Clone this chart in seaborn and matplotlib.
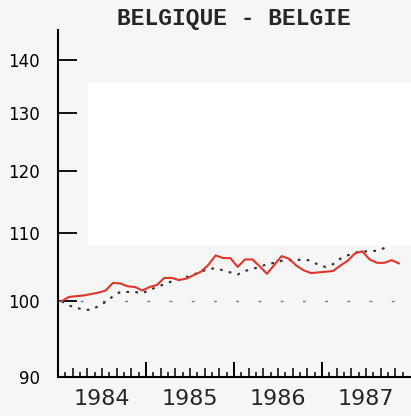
import numpy as np
import pandas as pd
import matplotlib.pyplot as plt
import seaborn as sns
from matplotlib.patches import Rectangle

# monthly index values, Jan 1984 .. Nov 1987
red_series = [100.0, 100.6, 100.7, 100.8, 101.0, 101.2, 101.5, 102.6, 102.5, 102.1,
              102.0, 101.5, 102.0, 102.3, 103.3, 103.3, 103.0, 103.2, 103.7, 104.2,
              105.2, 106.6, 106.2, 106.2, 104.9, 106.0, 106.0, 105.0, 103.9, 105.2,
              106.5, 106.1, 105.1, 104.4, 104.0, 104.1, 104.2, 104.3, 105.1, 105.8,
              106.9, 107.2, 106.0, 105.5, 105.5, 105.9, 105.4]
dotted_series = [100.0, 99.4, 99.1, 98.8, 98.8, 99.3, 99.9, 100.7, 101.3, 101.3,
                 101.3, 101.1, 101.6, 102.0, 102.4, 102.8, 103.0, 103.4, 103.8, 104.2,
                 104.6, 104.7, 104.4, 104.1, 103.8, 104.3, 104.6, 104.9, 105.3, 105.5,
                 105.8, 105.9, 105.9, 106.0, 105.8, 105.2, 104.9, 105.3, 106.1, 106.6,
                 107.0, 107.2, 107.2, 107.3, 107.7, 108.3, 108.7]
years = ["1984", "1985", "1986", "1987"]
y_ticks = [90, 100, 110, 120, 130, 140]

month = np.arange(len(red_series)) + 0.5   # mid-month, months since Jan 1984
df = pd.DataFrame({"month": month, "red": red_series, "dotted": dotted_series})

sns.set_theme(style="white")
plt.rcParams["font.family"] = ["DejaVu Sans"]

fig = plt.figure(figsize=(4.11, 4.16), dpi=100, facecolor="#f6f6f6")
# lighter patch of the scan
fig.patches.append(Rectangle((88 / 411, 1 - 246 / 416), 1, (246 - 83) / 416,
                             transform=fig.transFigure, facecolor="white",
                             edgecolor="none", zorder=0))
ax = fig.add_axes([58 / 411, 1 - 376.7 / 416, (410 - 58) / 411, (376.7 - 30) / 416])
ax.patch.set_alpha(0)

ax.axhline(100, color="#777777", lw=1, ls=(0, (2, 14)), zorder=1)
sns.lineplot(data=df, x="month", y="dotted", ax=ax, color="#2e2e2e", lw=1.5,
             zorder=2)
ax.lines[-1].set_linestyle((0, (1.3, 3.0)))
sns.lineplot(data=df, x="month", y="red", ax=ax, color="#e0352b", lw=1.5, zorder=3)

ax.set_yscale("log")
ax.set_ylim(90, 146)
ax.set_xlim(0, 48)
ax.set_yticks(y_ticks)
ax.set_yticklabels([str(v) for v in y_ticks])
ax.yaxis.set_minor_locator(plt.NullLocator())
ax.tick_params(axis="y", which="major", direction="in", length=14, width=1.3,
               pad=13, labelsize=12, colors="black", left=True)

# x axis: year ticks, even-month ticks, odd-month ticks, year labels
ax.set_xticks([0, 12, 24, 36])
ax.set_xticklabels([])
ax.set_xticks(np.arange(2, 48, 2), minor=True)
ax.tick_params(axis="x", which="major", direction="in", length=11, width=1.4,
               bottom=True, colors="black")
ax.tick_params(axis="x", which="minor", direction="in", length=6.5, width=1.1,
               bottom=True, colors="black")
odd = ax.secondary_xaxis("bottom")
odd.set_xticks(np.arange(1, 48, 2))
odd.set_xticklabels([])
odd.tick_params(direction="in", length=3.5, width=1.1, bottom=True, colors="black")
odd.spines["bottom"].set_visible(False)
lab = ax.secondary_xaxis("bottom")
lab.set_xticks(np.arange(len(years)) * 12 + 6)
lab.set_xticklabels(years)
lab.tick_params(length=0, pad=9, labelsize=16)
lab.spines["bottom"].set_visible(False)

for s in ["top", "right"]:
    ax.spines[s].set_visible(False)
for s in ["left", "bottom"]:
    ax.spines[s].set_linewidth(1.5)
    ax.spines[s].set_color("black")
ax.set_xlabel("")
ax.set_ylabel("")

fig.text(234 / 411, 1 - 19 / 416, "BELGIQUE - BELGIE", ha="center", va="center",
         fontsize=16.5, fontweight="bold", family="Liberation Mono")

fig.savefig("out.png", dpi=100, facecolor=fig.get_facecolor())
